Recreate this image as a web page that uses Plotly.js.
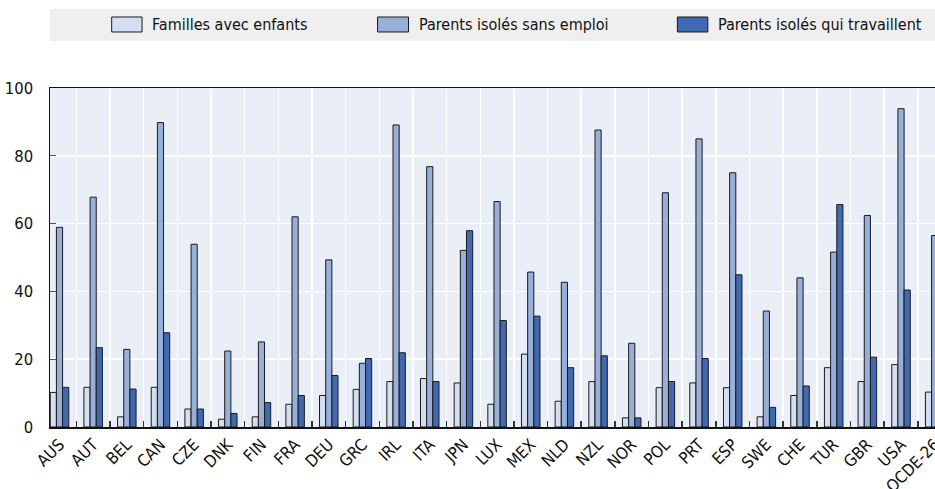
<!DOCTYPE html>
<html>
<head>
<meta charset="utf-8">
<script src="https://cdn.plot.ly/plotly-3.0.1.min.js"></script>
<style>
  html, body { margin: 0; padding: 0; background: #ffffff; }
  #chart { width: 935px; height: 489px; }
</style>
</head>
<body>
<div id="chart"></div>
<script>
// ---- Data ----
const countries = ["AUS","AUT","BEL","CAN","CZE","DNK","FIN","FRA","DEU","GRC","IRL","ITA","JPN","LUX","MEX","NLD","NZL","NOR","POL","PRT","ESP","SWE","CHE","TUR","GBR","USA","OCDE-26"];
const famillesAvecEnfants = [10.2,11.7,3.0,11.7,5.3,2.3,3.0,6.7,9.3,11.1,13.4,14.3,13.0,6.7,21.5,7.6,13.4,2.7,11.6,13.0,11.6,3.0,9.3,17.5,13.4,18.4,10.3];
const parentsIsolesSansEmploi = [58.9,67.8,22.9,89.8,53.9,22.4,25.1,62.0,49.3,18.8,89.1,76.8,52.1,66.5,45.7,42.7,87.6,24.7,69.1,85.0,75.0,34.2,44.0,51.6,62.4,93.9,56.5];
const parentsIsolesQuiTravaillent = [11.7,23.4,11.2,27.8,5.3,4.0,7.2,9.3,15.2,20.2,21.9,13.4,57.9,31.4,32.7,17.5,21.0,2.7,13.4,20.2,44.9,5.8,12.1,65.6,20.6,40.4,22.0];
const seriesNames = ["Familles avec enfants","Parents isolés sans emploi","Parents isolés qui travaillent"];
const yTickVals = [0,20,40,60,80,100];

// ---- Styles ----
const colors = ["#D3DEF0","#97AFD9","#4169B1"];
const FONT = '"Liberation Sans Narrow", "Arial Narrow", "DejaVu Sans Condensed", sans-serif';
const seriesValues = [famillesAvecEnfants, parentsIsolesSansEmploi, parentsIsolesQuiTravaillent];

const traces = seriesValues.map((vals, i) => ({
  type: 'bar',
  name: seriesNames[i],
  x: countries,
  y: vals,
  marker: { color: colors[i], line: { color: '#1a1a1a', width: 1 } },
  hoverinfo: 'x+y+name',
  showlegend: false
}));

// custom legend (band + symbols + labels), paper coordinates
const legendSymX = [[0.0697,0.1040],[0.3701,0.4051],[0.7089,0.7433]];
const legendTextX = [0.1130,0.4147,0.7525];
const shapes = [{
  type: 'rect', xref: 'paper', yref: 'paper',
  x0: 0, x1: 1, y0: 1.1386, y1: 1.2330,
  fillcolor: '#EFEFEF', line: { width: 0 }, layer: 'below'
}];
const annotations = [];
seriesNames.forEach((n, i) => {
  shapes.push({
    type: 'rect', xref: 'paper', yref: 'paper',
    x0: legendSymX[i][0], x1: legendSymX[i][1], y0: 1.1652, y1: 1.2094,
    fillcolor: colors[i], line: { color: '#1a1a1a', width: 1 }
  });
  annotations.push({
    xref: 'paper', yref: 'paper', x: legendTextX[i], y: 1.1873,
    xanchor: 'left', yanchor: 'middle', showarrow: false,
    text: n, font: { family: FONT, size: 16, color: '#111' }
  });
});

const layout = {
  width: 935, height: 489,
  margin: { l: 50, r: 0, t: 88, b: 62, pad: 0 },
  paper_bgcolor: '#ffffff',
  plot_bgcolor: '#EAEFF7',
  barmode: 'group',
  bargap: 0.45,
  bargroupgap: 0,
  font: { family: FONT, size: 16.5, color: '#111' },
  xaxis: {
    type: 'category',
    range: [-0.282, 26.01],
    tickangle: -45,
    tickson: 'boundaries',
    ticks: 'inside', ticklen: 6, tickcolor: '#333', tickwidth: 1.5,
    showgrid: true, gridcolor: '#ffffff', gridwidth: 1.5,
    showline: true, linecolor: '#111', linewidth: 1.5, mirror: true,
    tickfont: { family: FONT, size: 16.5, color: '#111' },
    fixedrange: true
  },
  yaxis: {
    range: [0, 100],
    tickvals: yTickVals,
    ticks: 'inside', ticklen: 6, tickcolor: '#555', tickwidth: 1,
    showgrid: true, gridcolor: '#ffffff', gridwidth: 1.5,
    showline: true, linecolor: '#111', linewidth: 1.5,
    zeroline: false,
    ticklabelstandoff: 12,
    tickfont: { family: FONT, size: 16.5, color: '#111' },
    fixedrange: true
  },
  shapes: shapes,
  annotations: annotations,
  showlegend: false
};

Plotly.newPlot('chart', traces, layout, { displayModeBar: false, staticPlot: true });
</script>
</body>
</html>
